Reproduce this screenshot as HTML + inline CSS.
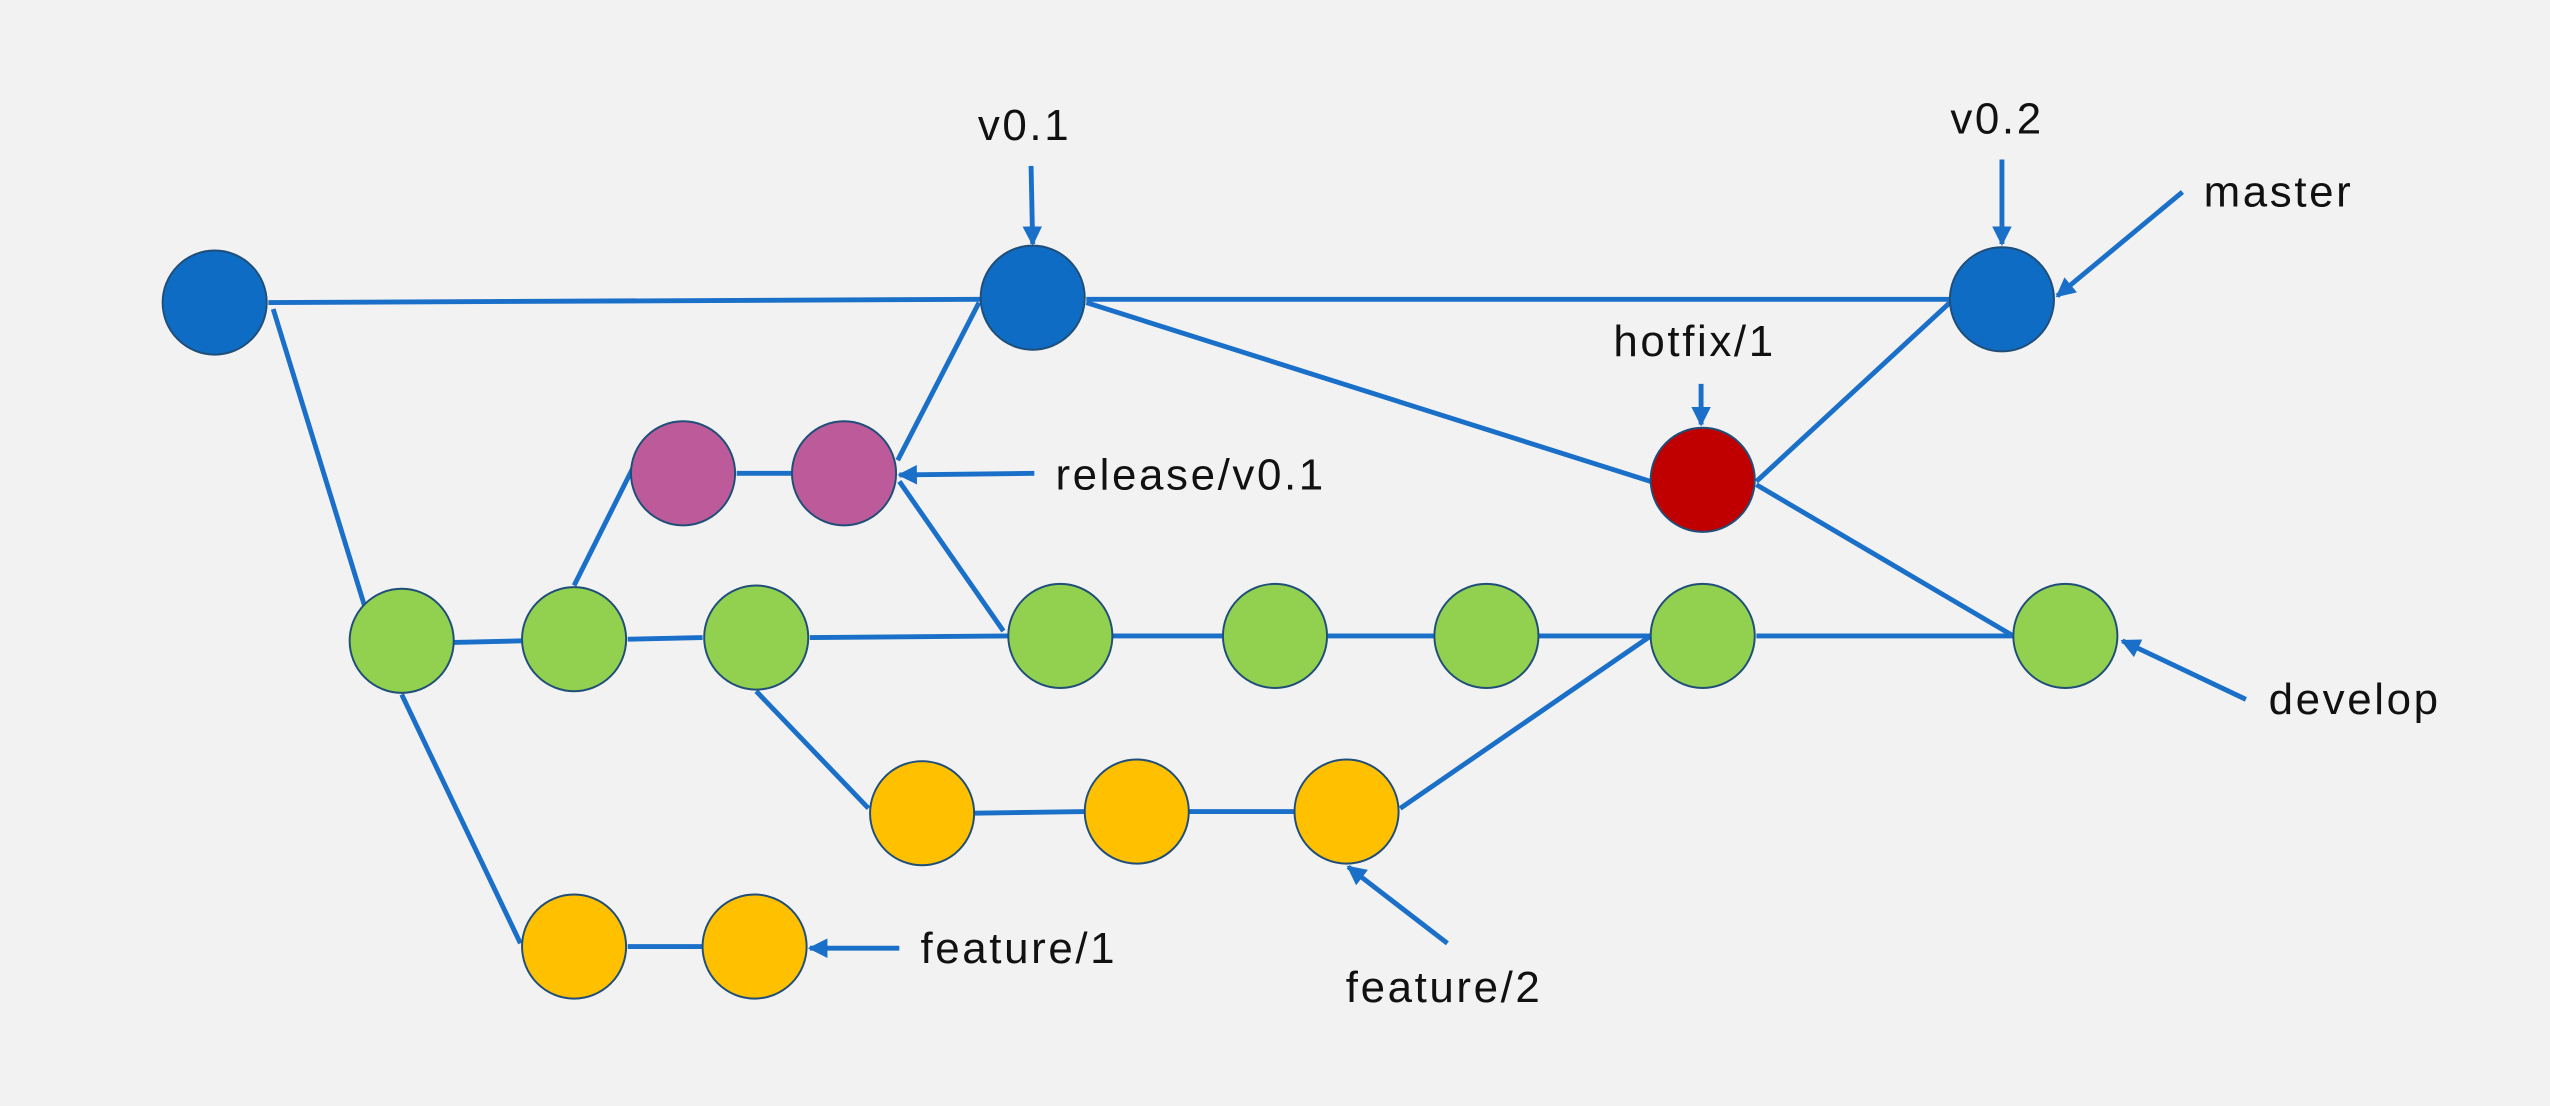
<!DOCTYPE html>
<html><head><meta charset="utf-8"><style>
html,body{margin:0;padding:0;background:#f2f2f2;}
svg{display:block;}
text{font-family:"Liberation Sans",sans-serif;font-size:27px;letter-spacing:1.6px;fill:#111;}
</style></head><body>
<svg width="2550" height="1106" viewBox="0 0 1568 680" xmlns="http://www.w3.org/2000/svg">
<defs>
<marker id="a" viewBox="0 0 10 10" refX="9" refY="5" markerWidth="4" markerHeight="4" orient="auto"><path d="M0,0L10,5L0,10z" fill="#1a6fc8"/></marker>
</defs>
<rect width="1568" height="680" fill="#f2f2f2"/>
<g stroke="#1a6fc8" stroke-width="3" fill="none">
<line x1="165" y1="186" x2="603" y2="184"/>
<line x1="668" y1="184" x2="1199" y2="184"/>
<line x1="168" y1="190" x2="224" y2="372"/>
<line x1="279" y1="395" x2="321" y2="394"/>
<line x1="386" y1="393" x2="432" y2="392"/>
<line x1="498" y1="392" x2="620" y2="391"/>
<line x1="684" y1="391" x2="752" y2="391"/>
<line x1="816" y1="391" x2="882" y2="391"/>
<line x1="946" y1="391" x2="1015" y2="391"/>
<line x1="1080" y1="391" x2="1238" y2="391"/>
<line x1="353" y1="360" x2="389" y2="288"/>
<line x1="453" y1="291" x2="487" y2="291"/>
<line x1="552" y1="283" x2="602" y2="186"/>
<line x1="553" y1="296" x2="617" y2="388"/>
<line x1="668" y1="186" x2="1015" y2="296"/>
<line x1="1080" y1="296" x2="1199" y2="186"/>
<line x1="1080" y1="298" x2="1238" y2="391"/>
<line x1="465" y1="425" x2="534" y2="497"/>
<line x1="599" y1="500" x2="667" y2="499"/>
<line x1="731" y1="499" x2="796" y2="499"/>
<line x1="861" y1="497" x2="1015" y2="391"/>
<line x1="247" y1="427" x2="320" y2="580"/>
<line x1="386" y1="582" x2="432" y2="582"/>
</g>
<g stroke="#1a6fc8" stroke-width="3" fill="none" marker-end="url(#a)">
<line x1="634" y1="102" x2="635" y2="150"/>
<line x1="1231" y1="98" x2="1231" y2="150"/>
<line x1="1342" y1="118" x2="1265" y2="182"/>
<line x1="1046" y1="236" x2="1046" y2="261"/>
<line x1="636" y1="291" x2="553" y2="292"/>
<line x1="1381" y1="430" x2="1305" y2="394"/>
<line x1="890" y1="580" x2="829" y2="533"/>
<line x1="553" y1="583" x2="498" y2="583"/>
</g>
<g stroke="#1f4e79" stroke-width="1.2">
<circle cx="132" cy="186" r="32" fill="#0f6cc4"/>
<circle cx="635" cy="183" r="32" fill="#0f6cc4"/>
<circle cx="1231" cy="184" r="32" fill="#0f6cc4"/>
<circle cx="420" cy="291" r="32" fill="#bc5a9a"/>
<circle cx="519" cy="291" r="32" fill="#bc5a9a"/>
<circle cx="1047" cy="295" r="32" fill="#c00000"/>
<circle cx="247" cy="394" r="32" fill="#92d050"/>
<circle cx="353" cy="393" r="32" fill="#92d050"/>
<circle cx="465" cy="392" r="32" fill="#92d050"/>
<circle cx="652" cy="391" r="32" fill="#92d050"/>
<circle cx="784" cy="391" r="32" fill="#92d050"/>
<circle cx="914" cy="391" r="32" fill="#92d050"/>
<circle cx="1047" cy="391" r="32" fill="#92d050"/>
<circle cx="1270" cy="391" r="32" fill="#92d050"/>
<circle cx="567" cy="500" r="32" fill="#ffc000"/>
<circle cx="699" cy="499" r="32" fill="#ffc000"/>
<circle cx="828" cy="499" r="32" fill="#ffc000"/>
<circle cx="353" cy="582" r="32" fill="#ffc000"/>
<circle cx="464" cy="582" r="32" fill="#ffc000"/>
</g>
<text x="630" y="86" text-anchor="middle">v0.1</text>
<text x="1228" y="82" text-anchor="middle">v0.2</text>
<text x="1355" y="127">master</text>
<text x="1042" y="219" text-anchor="middle">hotfix/1</text>
<text x="649" y="301">release/v0.1</text>
<text x="1395" y="439">develop</text>
<text x="888" y="616" text-anchor="middle">feature/2</text>
<text x="566" y="592">feature/1</text>
</svg>
</body></html>
